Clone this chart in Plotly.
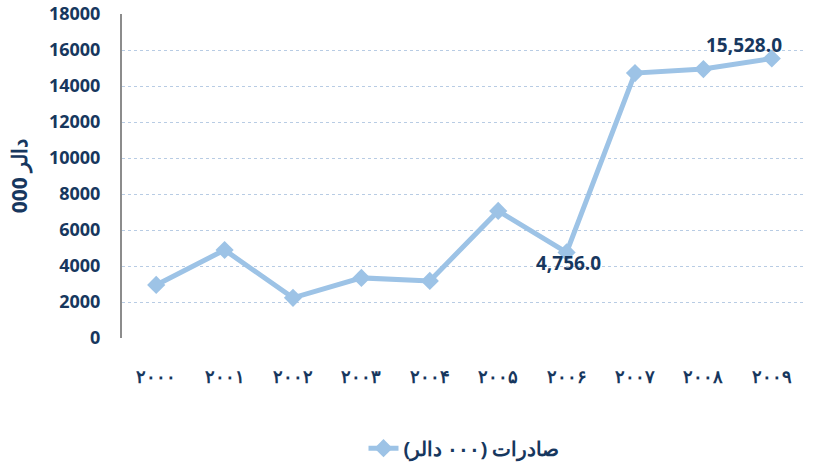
import plotly.graph_objects as go

# data
years = ["۲۰۰۰", "۲۰۰۱", "۲۰۰۲", "۲۰۰۳", "۲۰۰۴", "۲۰۰۵", "۲۰۰۶", "۲۰۰۷", "۲۰۰۸", "۲۰۰۹"]
exports = [2950, 4890, 2230, 3340, 3170, 7060, 4756, 14720, 14940, 15528]
labelled = [6, 9]  # points that carry a data label

navy = "#17375E"
line_col = "#9DC3E6"

fig = go.Figure()
fig.add_trace(go.Scatter(
    x=years, y=exports,
    mode="lines+markers",
    name="صادرات (۰۰۰ دالر)",
    line=dict(color=line_col, width=5),
    marker=dict(symbol="diamond", size=14, color=line_col),
    cliponaxis=False,
))

# data labels
shifts = {6: (2, -11), 9: (-28, 14)}
for i in labelled:
    fig.add_annotation(x=years[i], y=exports[i], text="<b>{:,.1f}</b>".format(exports[i]),
                       showarrow=False, xshift=shifts[i][0], yshift=shifts[i][1],
                       font=dict(size=19, color=navy, family="Open Sans"))

fig.update_layout(
    width=813, height=466,
    margin=dict(l=122, r=7, t=14, b=128, autoexpand=False),
    plot_bgcolor="white", paper_bgcolor="white",
    font=dict(family="Open Sans", color=navy, size=14),
    showlegend=True,
    legend=dict(orientation="h", x=0.5, xanchor="center", y=-0.28, yanchor="top",
                font=dict(size=20, color=navy, weight="bold")),
    xaxis=dict(type="category", range=[-0.5, len(years) - 0.5],
               showgrid=False, showline=False, ticks="",
               tickfont=dict(size=18, color=navy, weight="bold"), ticklabelstandoff=26),
    yaxis=dict(range=[0, 18000], dtick=2000, showgrid=True,
               gridcolor="#B8CCE4", griddash="dot", gridwidth=1,
               showline=True, linecolor="#8C8C8C", linewidth=2,
               zeroline=False, tickformat="d", ticklabeloverflow="allow",
               tickfont=dict(size=18, color=navy, weight="bold"),
               ticklabelstandoff=16,
               title=dict(text="<b>000 دالر</b>", font=dict(size=21, color=navy), standoff=16)),
)

# drop the default 8px page margin so the figure fills the window
fig.write_html("out.html", config={"displayModeBar": False},
               post_script="document.body.style.margin='0';")
